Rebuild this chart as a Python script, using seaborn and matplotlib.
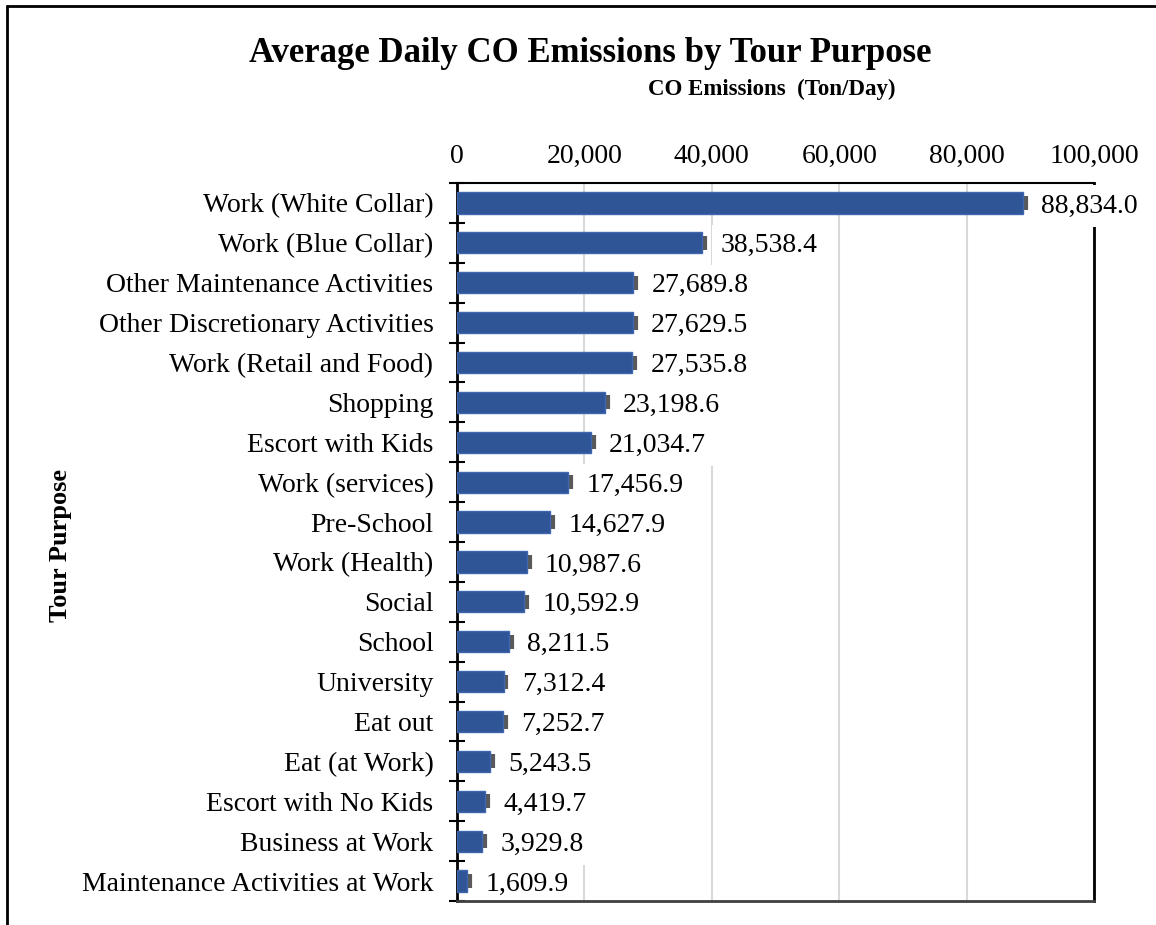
import matplotlib
matplotlib.use("Agg")
import matplotlib.pyplot as plt
from matplotlib.lines import Line2D
from matplotlib.ticker import FuncFormatter, FixedLocator
import seaborn as sns
import pandas as pd

# Tour purposes, top to bottom
purposes = [
    "Work (White Collar)",
    "Work (Blue Collar)",
    "Other Maintenance Activities",
    "Other Discretionary Activities",
    "Work (Retail and Food)",
    "Shopping",
    "Escort with Kids",
    "Work (services)",
    "Pre-School",
    "Work (Health)",
    "Social",
    "School",
    "University",
    "Eat out",
    "Eat (at Work)",
    "Escort with No Kids",
    "Business at Work",
    "Maintenance Activities at Work",
]
# Average daily CO emissions (ton/day)
emissions = [
    88834.0, 38538.4, 27689.8, 27629.5, 27535.8, 23198.6, 21034.7, 17456.9,
    14627.9, 10987.6, 10592.9, 8211.5, 7312.4, 7252.7, 5243.5, 4419.7,
    3929.8, 1609.9,
]
# Error margins (ton/day)
errors = [
    450, 450, 450, 450, 450, 450, 450, 450, 450,
    450, 450, 450, 450, 450, 450, 450, 450, 450,
]
x_ticks = [0, 20000, 40000, 60000, 80000, 100000]

df = pd.DataFrame({"purpose": purposes, "emissions": emissions, "err": errors})

sns.set_theme(style="white")
plt.rcParams["font.family"] = ["Liberation Serif", "DejaVu Serif"]
plt.rcParams.update({
    "text.color": "black",
    "axes.labelcolor": "black",
    "xtick.color": "black",
    "ytick.color": "black",
})

W, H = 1156, 925
fig = plt.figure(figsize=(W / 100, H / 100), dpi=100)
ax = fig.add_axes([457 / W, 1 - 901 / H, 637 / W, 718 / H])

bar_color = "#2F5597"
sns.barplot(data=df, x="emissions", y="purpose", orient="h", color=bar_color,
            saturation=1, width=0.53, errorbar=None, ax=ax,
            edgecolor="#3F67B0", linewidth=1, zorder=3)

ypos = list(range(len(purposes)))
ax.errorbar(df["emissions"], ypos, xerr=df["err"], fmt="none",
            ecolor="#595959", elinewidth=3, capsize=5, capthick=3, zorder=2.8)

# Value labels
for y, v, e in zip(ypos, emissions, errors):
    ax.annotate(f"{v:,.1f}", (v, y), xytext=(13, 0), textcoords="offset points",
                ha="left", va="center_baseline", fontsize=20, color="black",
                bbox=dict(boxstyle="square,pad=0.3", fc="white", ec="none"),
                zorder=5, annotation_clip=False)

ax.set_xlim(0, 100000)
ax.set_ylim(len(purposes) - 0.5, -0.5)

# X axis on top with thousands separators
ax.xaxis.tick_top()
ax.set_xticks(x_ticks)
ax.xaxis.set_major_formatter(FuncFormatter(lambda v, p: f"{v:,.0f}"))
ax.tick_params(axis="x", length=0, pad=10, labelsize=20, labelcolor="black")
ax.grid(axis="x", color="#D9D9D9", linewidth=1.5, zorder=0)
ax.set_axisbelow(True)

# Y axis: labels centered on bars, tick marks at category boundaries
ax.tick_params(axis="y", which="major", length=0, pad=17, labelsize=20, labelcolor="black")
ax.yaxis.set_minor_locator(FixedLocator([i - 0.5 for i in range(len(purposes) + 1)]))
ax.tick_params(axis="y", which="minor", direction="inout", length=12, width=1.5,
               color="black", left=True)
ax.set_xlabel("")
ax.set_ylabel("")

for side in ["left", "top", "right"]:
    ax.spines[side].set_visible(True)
    ax.spines[side].set_color("black")
ax.spines["left"].set_linewidth(2)
ax.spines["top"].set_linewidth(1.5)
ax.spines["right"].set_linewidth(2)
ax.spines["bottom"].set_color("#404040")
ax.spines["bottom"].set_linewidth(2)
ax.spines["bottom"].set_zorder(6)

fig.text(590 / W, 1 - 54 / H, "Average Daily CO Emissions by Tour Purpose",
         ha="center", va="center", fontsize=25, fontweight="bold", color="black")
fig.text(772 / W, 1 - 89 / H, "CO Emissions  (Ton/Day)",
         ha="center", va="center", fontsize=16.5, fontweight="bold", color="black")
fig.text(61 / W, 1 - 545 / H, "Tour Purpose", ha="center", va="center",
         rotation=90, fontsize=19, fontweight="bold", color="black")

# Outer frame
fig.add_artist(Line2D([7 / W, 7 / W], [0, 1 - 6 / H], transform=fig.transFigure,
                      color="black", linewidth=2))
fig.add_artist(Line2D([7 / W, 1], [1 - 6 / H, 1 - 6 / H], transform=fig.transFigure,
                      color="black", linewidth=2))

fig.savefig("out.png", dpi=100, facecolor="white")
